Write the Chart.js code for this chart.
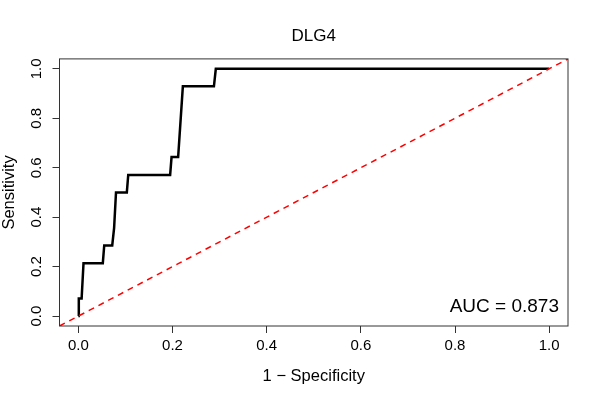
<!DOCTYPE html>
<html>
<head>
<meta charset="utf-8">
<script src="https://cdn.jsdelivr.net/npm/chart.js@4"></script>
<style>
  html, body { margin: 0; padding: 0; background: #fff; }
  #roc { display: block; }
</style>
</head>
<body>
<canvas id="roc" width="600" height="400"></canvas>
<script>
// ROC curve for DLG4
const fpr = [0, 0.001, 0.007, 0.011, 0.052, 0.055, 0.072, 0.076, 0.080, 0.103, 0.106, 0.195, 0.198, 0.212, 0.222, 0.288, 0.292, 1.0];
const tpr = [0, 0.071, 0.071, 0.214, 0.214, 0.286, 0.286, 0.357, 0.500, 0.500, 0.571, 0.571, 0.643, 0.643, 0.929, 0.929, 1.0, 1.0];
const tickValues = [0, 0.2, 0.4, 0.6, 0.8, 1.0];
const axisMin = -0.04;
const axisMax = 1.04;
const aucText = 'AUC = 0.873';
const titleText = 'DLG4';

const FONT = "'Liberation Sans', Arial, Helvetica, sans-serif";

const rocPoints = fpr.map((x, i) => ({ x, y: tpr[i] }));
const diagonal = [{ x: axisMin, y: axisMin }, { x: axisMax, y: axisMax }];

// box round the plot, rotated y tick labels and the AUC note
const rPlotExtras = {
  id: 'rPlotExtras',
  afterDraw(chart) {
    const { ctx, chartArea, scales } = chart;
    ctx.save();
    ctx.strokeStyle = '#333';
    ctx.lineWidth = 1;
    ctx.strokeRect(chartArea.left, chartArea.top, chartArea.right - chartArea.left, chartArea.bottom - chartArea.top);

    ctx.fillStyle = '#000';
    ctx.font = '15px ' + FONT;
    ctx.textAlign = 'center';
    ctx.textBaseline = 'middle';
    scales.y.ticks.forEach(t => {
      const py = scales.y.getPixelForValue(t.value);
      ctx.save();
      ctx.translate(chartArea.left - 23, py);
      ctx.rotate(-Math.PI / 2);
      ctx.fillText(t.value.toFixed(1), 0, 0);
      ctx.restore();
    });

    ctx.font = '19px ' + FONT;
    ctx.textAlign = 'right';
    ctx.textBaseline = 'alphabetic';
    ctx.fillText(aucText, chartArea.right - 9, chartArea.bottom - 14);
    ctx.restore();
  }
};

new Chart(document.getElementById('roc').getContext('2d'), {
  type: 'scatter',
  data: {
    datasets: [
      {
        label: 'chance',
        data: diagonal,
        showLine: true,
        borderColor: '#ff0000',
        borderWidth: 1.5,
        borderDash: [6, 5],
        pointRadius: 0,
      },
      {
        label: 'ROC',
        data: rocPoints,
        showLine: true,
        borderColor: '#000',
        borderWidth: 2.5,
        pointRadius: 0,
        tension: 0,
      },
    ],
  },
  options: {
    responsive: false,
    devicePixelRatio: 1,
    animation: false,
    layout: { padding: { left: 0, right: 32, top: 0, bottom: 0 } },
    plugins: {
      legend: { display: false },
      tooltip: { enabled: false },
      title: {
        display: true,
        text: titleText,
        fullSize: false,
        color: '#000',
        font: { family: FONT, size: 17, weight: 'normal', lineHeight: 1.2 },
        padding: { top: 26.5, bottom: 12 },
      },
    },
    scales: {
      x: {
        type: 'linear',
        min: axisMin,
        max: axisMax,
        afterBuildTicks: scale => { scale.ticks = tickValues.map(v => ({ value: v })); },
        afterFit: scale => { scale.height = 74; },
        border: { display: false },
        grid: { drawOnChartArea: false, drawTicks: true, tickLength: 7, color: '#333' },
        ticks: {
          color: '#000',
          font: { family: FONT, size: 15 },
          padding: 4,
          maxRotation: 0,
          callback: v => v.toFixed(1),
        },
        title: {
          display: true,
          text: '1 − Specificity',
          color: '#000',
          font: { family: FONT, size: 16.5 },
          padding: { top: 0, bottom: 13.5 },
        },
      },
      y: {
        type: 'linear',
        min: axisMin,
        max: axisMax,
        afterBuildTicks: scale => { scale.ticks = tickValues.map(v => ({ value: v })); },
        afterFit: scale => { scale.width = 59.5; },
        border: { display: false },
        grid: { drawOnChartArea: false, drawTicks: true, tickLength: 7, color: '#333' },
        ticks: { display: false },
        title: {
          display: true,
          text: 'Sensitivity',
          color: '#000',
          font: { family: FONT, size: 16.5 },
          padding: { top: 0, bottom: 0 },
        },
      },
    },
  },
  plugins: [rPlotExtras],
});
</script>
</body>
</html>
